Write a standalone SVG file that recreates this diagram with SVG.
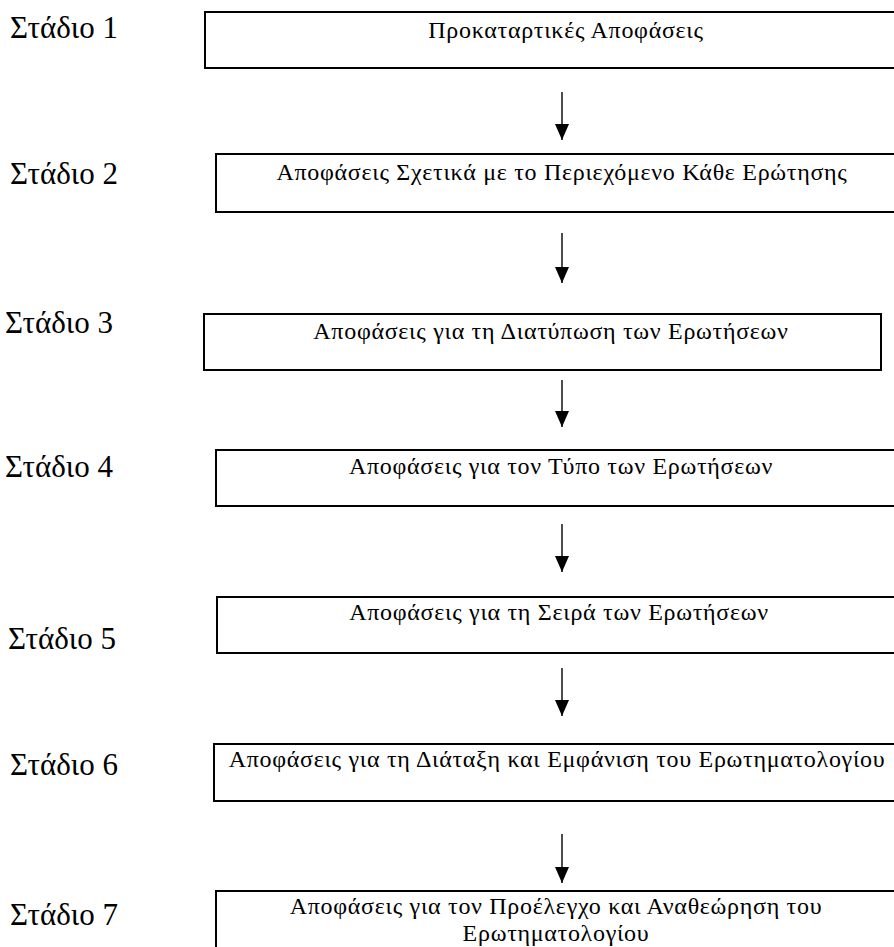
<svg xmlns="http://www.w3.org/2000/svg" width="894" height="947" viewBox="0 0 894 947">
  <defs>
    <style>
      .box { fill: #ffffff; stroke: #000000; stroke-width: 2; }
      .stage { font-family: "Liberation Serif", "DejaVu Serif", serif; font-size: 31px; fill: #000000; }
      .label { font-family: "Liberation Serif", "DejaVu Serif", serif; font-size: 24px; letter-spacing: 0.7px; fill: #000000; text-anchor: middle; }
      .arrow { stroke: #000000; stroke-width: 1.4; fill: none; marker-end: url(#head); }
    </style>
    <marker id="head" markerUnits="userSpaceOnUse" markerWidth="16" markerHeight="14" refX="16" refY="7" orient="auto" viewBox="0 0 16 14">
      <path d="M0,0 L16,7 L0,14 Z" fill="#000000"/>
    </marker>
  </defs>
  <rect width="894" height="947" fill="#ffffff"/>

  <!-- stage labels -->
  <g id="stages">
    <text class="stage" x="10" y="38">Στάδιο 1</text>
    <text class="stage" x="10" y="184">Στάδιο 2</text>
    <text class="stage" x="5" y="333">Στάδιο 3</text>
    <text class="stage" x="5" y="477">Στάδιο 4</text>
    <text class="stage" x="8" y="649">Στάδιο 5</text>
    <text class="stage" x="10" y="775">Στάδιο 6</text>
    <text class="stage" x="10" y="925">Στάδιο 7</text>
  </g>

  <g id="step1">
    <rect class="box" x="205" y="12" width="700" height="56"/>
    <text class="label" x="566" y="38">Προκαταρτικές Αποφάσεις</text>
  </g>
  <g id="step2">
    <rect class="box" x="216" y="154" width="700" height="58"/>
    <text class="label" x="562" y="180">Αποφάσεις Σχετικά με το Περιεχόμενο Κάθε Ερώτησης</text>
  </g>
  <g id="step3">
    <rect class="box" x="204" y="314" width="677" height="56"/>
    <text class="label" x="551" y="339">Αποφάσεις για τη Διατύπωση των Ερωτήσεων</text>
  </g>
  <g id="step4">
    <rect class="box" x="216" y="450" width="700" height="56"/>
    <text class="label" x="561" y="474">Αποφάσεις για τον Τύπο των Ερωτήσεων</text>
  </g>
  <g id="step5">
    <rect class="box" x="217" y="597" width="700" height="56"/>
    <text class="label" x="559" y="620">Αποφάσεις για τη Σειρά των Ερωτήσεων</text>
  </g>
  <g id="step6">
    <rect class="box" x="214" y="744" width="700" height="57"/>
    <text class="label" x="557" y="767">Αποφάσεις για τη Διάταξη και Εμφάνιση του Ερωτηματολογίου</text>
  </g>
  <g id="step7">
    <rect class="box" x="216" y="891" width="700" height="80"/>
    <text class="label" x="556" y="914">Αποφάσεις για τον Προέλεγχο και Αναθεώρηση του</text>
    <text class="label" x="556" y="941">Ερωτηματολογίου</text>
  </g>

  <!-- connectors between steps -->
  <g id="connectors">
    <path class="arrow" d="M562,92 L562,140"/>
    <path class="arrow" d="M562,233 L562,283"/>
    <path class="arrow" d="M562,380 L562,427"/>
    <path class="arrow" d="M562,524 L562,572"/>
    <path class="arrow" d="M562,668 L562,716"/>
    <path class="arrow" d="M562,834 L562,883"/>
  </g>
</svg>
